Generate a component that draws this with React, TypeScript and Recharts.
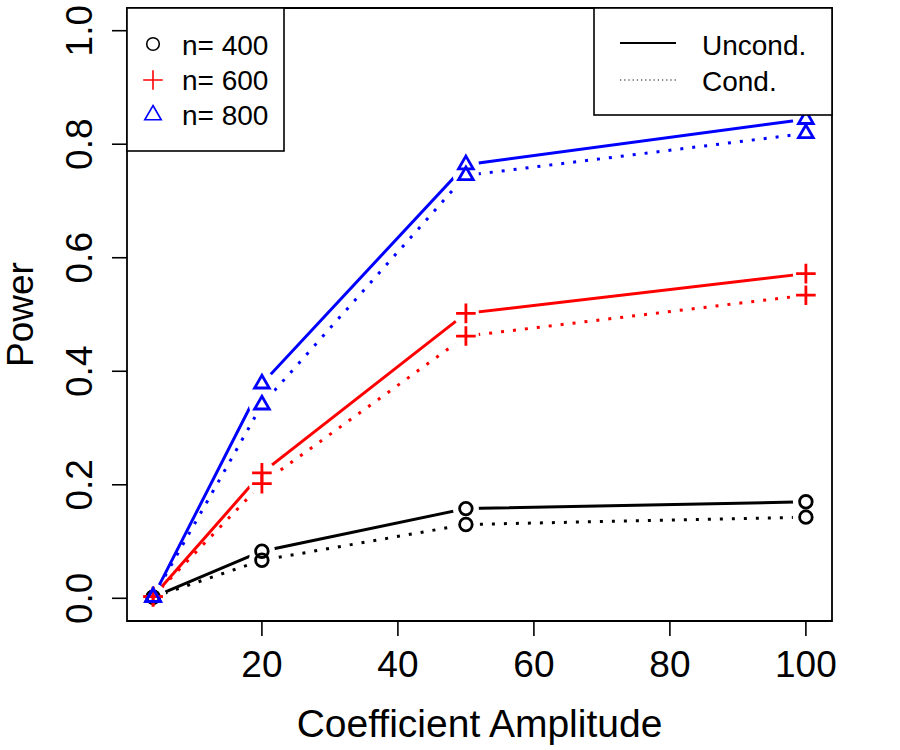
import React from "react";
import { ComposedChart, Legend, ReferenceArea, Scatter, XAxis, YAxis } from "recharts";

// power curves, unconditional vs conditional test, three sample sizes
const amplitude = [4, 20, 50, 100];
const uncond400 = [0.002, 0.083, 0.158, 0.17];
const cond400 = [0.002, 0.067, 0.13, 0.143];
const uncond600 = [0.003, 0.221, 0.502, 0.572];
const cond600 = [0.003, 0.202, 0.462, 0.534];
const uncond800 = [0.002, 0.378, 0.764, 0.844];
const cond800 = [0.002, 0.341, 0.745, 0.819];

const sampleSizes = [400, 600, 800];
const testTypes = ["Uncond.", "Cond."];
const xTicks = [20, 40, 60, 80, 100];
const yTicks = [0, 0.2, 0.4, 0.6, 0.8, 1.0];

const FONT = "'Liberation Sans', Arial, Helvetica, sans-serif";

type Shape = "circle" | "plus" | "triangle";

const groups: { n: number; color: string; shape: Shape }[] = [
  { n: sampleSizes[0], color: "#000000", shape: "circle" },
  { n: sampleSizes[1], color: "#ff0000", shape: "plus" },
  { n: sampleSizes[2], color: "#0000ff", shape: "triangle" },
];

const data = amplitude.map((x, i) => ({
  x,
  u400: uncond400[i],
  c400: cond400[i],
  u600: uncond600[i],
  c600: cond600[i],
  u800: uncond800[i],
  c800: cond800[i],
}));

const series = groups.flatMap((g) => [
  { key: `u${g.n}`, color: g.color, shape: g.shape, dotted: false },
  { key: `c${g.n}`, color: g.color, shape: g.shape, dotted: true },
]);

function Marker({
  shape,
  cx,
  cy,
  color,
  scale = 1,
  sw = 2.8,
}: {
  shape: Shape;
  cx: number;
  cy: number;
  color: string;
  scale?: number;
  sw?: number;
}) {
  if (shape === "circle") {
    return <circle cx={cx} cy={cy} r={6.3 * scale} fill="none" stroke={color} strokeWidth={sw} />;
  }
  if (shape === "plus") {
    const h = 9.8 * scale;
    return (
      <path
        d={`M${cx - h},${cy}H${cx + h}M${cx},${cy - h}V${cy + h}`}
        fill="none"
        stroke={color}
        strokeWidth={sw}
      />
    );
  }
  const r = 8.5 * scale;
  return (
    <polygon
      points={`${cx},${cy - r} ${cx + 0.866 * r},${cy + r / 2} ${cx - 0.866 * r},${cy + r / 2}`}
      fill="none"
      stroke={color}
      strokeWidth={sw}
      strokeLinejoin="miter"
    />
  );
}

function XTick({ x, y, payload }: any) {
  return (
    <text x={x} y={y + 39} textAnchor="middle" fontSize={37} fontFamily={FONT} fill="#000">
      {payload.value}
    </text>
  );
}

function YTick({ x, y, payload }: any) {
  const bx = x - 18;
  return (
    <text
      x={bx}
      y={y}
      transform={`rotate(-90, ${bx}, ${y})`}
      textAnchor="middle"
      fontSize={37}
      fontFamily={FONT}
      fill="#000"
    >
      {Number(payload.value).toFixed(1)}
    </text>
  );
}

function XTitle(props: any) {
  const vb = props.viewBox ?? { x: 127, y: 621, width: 705, height: 129 };
  return (
    <text x={vb.x + vb.width / 2} y={vb.y + 116} textAnchor="middle" fontSize={39} fontFamily={FONT} fill="#000">
      Coefficient Amplitude
    </text>
  );
}

function YTitle(props: any) {
  const vb = props.viewBox ?? { x: 0, y: 8, width: 127, height: 613 };
  const cx = vb.x + 33;
  const cy = vb.y + vb.height / 2;
  return (
    <text
      x={cx}
      y={cy}
      transform={`rotate(-90, ${cx}, ${cy})`}
      textAnchor="middle"
      fontSize={37}
      fontFamily={FONT}
      fill="#000"
    >
      Power
    </text>
  );
}

// both legend boxes, drawn as one overlay
function Legends() {
  return (
    <svg width={900} height={750} style={{ position: "absolute", left: 0, top: 0 }}>
      <rect x={127} y={8} width={157} height={143} fill="#fff" stroke="#000" strokeWidth={1.6} />
      {groups.map((g, i) => (
        <g key={g.n}>
          <Marker
            shape={g.shape}
            cx={153}
            cy={[44, 80, 115][i]}
            color={g.color}
            scale={g.shape === "triangle" ? 1.12 : 1}
            sw={1.6}
          />
          <text x={182} y={55 + i * 35} fontSize={28} fontFamily={FONT} fill="#000">
            {`n= ${g.n}`}
          </text>
        </g>
      ))}
      <rect x={594} y={8} width={238} height={107} fill="#fff" stroke="#000" strokeWidth={1.6} />
      {testTypes.map((t, i) => (
        <g key={t}>
          <line
            x1={620}
            x2={676}
            y1={43 + i * 37}
            y2={43 + i * 37}
            stroke="#000"
            strokeWidth={i === 0 ? 1.8 : 1.2}
            strokeDasharray={i === 0 ? undefined : "1.2 3"}
          />
          <text x={702} y={55 + i * 36} fontSize={28} fontFamily={FONT} fill="#000">
            {t}
          </text>
        </g>
      ))}
    </svg>
  );
}

const noShape = () => <g />;

export default function App() {
  return (
    <div style={{ position: "absolute", left: 0, top: 0, width: 900, height: 750, background: "#fff" }}>
      <ComposedChart width={900} height={750} data={data} margin={{ top: 8, right: 68, bottom: 0, left: 0 }}>
        <XAxis
          type="number"
          dataKey="x"
          domain={[0.16, 103.84]}
          ticks={xTicks}
          interval={0}
          allowDataOverflow
          height={129}
          axisLine={false}
          tickSize={15}
          tickMargin={2}
          tickLine={{ stroke: "#000", strokeWidth: 1.6 }}
          tick={<XTick />}
          label={{ content: XTitle }}
        />
        <YAxis
          type="number"
          domain={[-0.04, 1.04]}
          ticks={yTicks}
          interval={0}
          allowDataOverflow
          width={127}
          axisLine={false}
          tickSize={15}
          tickMargin={2}
          tickLine={{ stroke: "#000", strokeWidth: 1.6 }}
          tick={<YTick />}
          label={{ content: YTitle }}
        />
        <ReferenceArea
          x1={0.16}
          x2={103.84}
          y1={-0.04}
          y2={1.04}
          fill="none"
          fillOpacity={0}
          stroke="#000"
          strokeWidth={1.8}
          strokeOpacity={1}
          ifOverflow="visible"
        />
        {/* connecting lines */}
        {series.map((s) => (
          <Scatter
            key={`line-${s.key}`}
            dataKey={s.key}
            legendType="none"
            isAnimationActive={false}
            line={{
              stroke: s.color,
              strokeWidth: 3,
              strokeDasharray: s.dotted ? "3 9" : undefined,
            }}
            shape={noShape}
          />
        ))}
        {/* white discs break each line around its points */}
        {series.map((s) => (
          <Scatter
            key={`gap-${s.key}`}
            dataKey={s.key}
            legendType="none"
            isAnimationActive={false}
            shape={(p: any) => <circle cx={p.cx} cy={p.cy} r={13} fill="#fff" />}
          />
        ))}
        {series.map((s) => (
          <Scatter
            key={`mark-${s.key}`}
            dataKey={s.key}
            legendType="none"
            isAnimationActive={false}
            shape={(p: any) => <Marker shape={s.shape} cx={p.cx} cy={p.cy} color={s.color} />}
          />
        ))}
        <Legend
          verticalAlign="middle"
          align="center"
          content={() => <Legends />}
          wrapperStyle={{ position: "absolute", left: 0, top: 0, width: 900, height: 750, pointerEvents: "none" }}
        />
      </ComposedChart>
    </div>
  );
}
